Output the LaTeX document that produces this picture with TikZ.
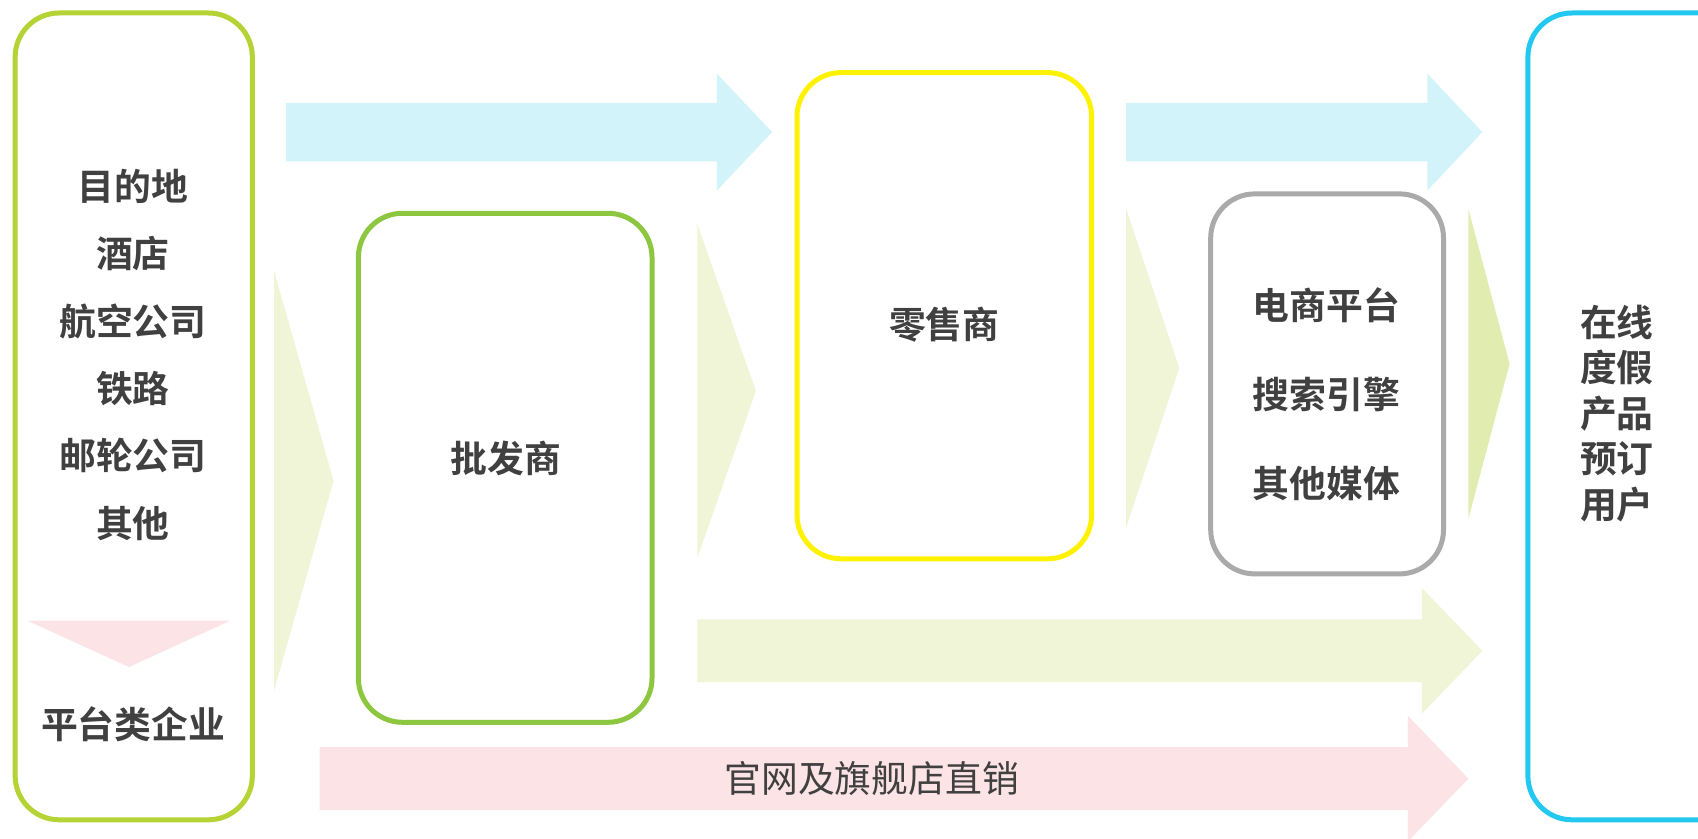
\documentclass[tikz,border=0pt]{standalone}
\usepackage{fontspec}
\newfontfamily\cjk{Noto Sans CJK SC}[BoldFont={Noto Sans CJK SC Bold}]
\definecolor{txtgray}{HTML}{404040}
\definecolor{leftgreen}{HTML}{B5D334}
\definecolor{midgreen}{HTML}{8DC63F}
\definecolor{retailyellow}{HTML}{FFF200}
\definecolor{mediagray}{HTML}{AAAAAA}
\definecolor{userblue}{HTML}{22C8F0}
\definecolor{flowblue}{HTML}{D3F3FB}
\definecolor{flowgreen}{HTML}{F0F5D7}
\definecolor{flowgreendark}{HTML}{E1EDB0}
\definecolor{flowpink}{HTML}{FBE3E6}

\begin{document}
\begin{tikzpicture}[x=0.5pt,y=-0.5pt,
  box/.style={draw,line width=2.5pt,rounded corners=22pt,fill=white},
  label/.style={text=txtgray,font=\cjk\bfseries\fontsize{18.4}{22}\selectfont,align=center}]
\clip (0,0) rectangle (1698,839);
\fill[white] (0,0) rectangle (1698,839);

\fill[flowblue] (285.9,102.9) -- (716.9,102.9) -- (716.9,73.6) -- (772.1,132.1) -- (716.9,190.6) -- (716.9,161.4) -- (285.9,161.4) -- cycle;
\fill[flowblue] (1126.2,102.9) -- (1427.3,102.9) -- (1427.3,73.6) -- (1482.4,132.1) -- (1427.3,190.6) -- (1427.3,161.4) -- (1126.2,161.4) -- cycle;
\fill[flowgreen] (697.4,619.4) -- (1421.9,619.4) -- (1421.9,588) -- (1482.4,650.8) -- (1421.9,713.6) -- (1421.9,682.2) -- (697.4,682.2) -- cycle;
\fill[flowpink] (319.5,747.2) -- (1407.9,747.2) -- (1407.9,715.8) -- (1468.4,778.6) -- (1407.9,841.4) -- (1407.9,810) -- (319.5,810) -- cycle;

\fill[flowgreen] (274,270.7) -- (333.5,480.8) -- (274,690.9) -- cycle;
\fill[flowgreen] (697.4,224.2) -- (755.9,390.9) -- (697.4,557.7) -- cycle;
\fill[flowgreen] (1126.2,209) -- (1179.3,368.2) -- (1126.2,527.4) -- cycle;
\fill[flowgreendark] (1468.4,209) -- (1509.6,363.9) -- (1468.4,518.7) -- cycle;

\node[box,draw=leftgreen,minimum width=118.6pt,minimum height=403.4pt] (source) at (133.75,416.4) {};
\node[box,draw=midgreen,minimum width=146.8pt,minimum height=254.5pt] (wholesale) at (505.2,467.8) {};
\node[box,draw=retailyellow,minimum width=147.3pt,minimum height=243.1pt] (retail) at (944.3,315.7) {};
\node[box,draw=mediagray,minimum width=116.4pt,minimum height=190pt] (media) at (1327.1,383.9) {};
\node[box,draw=userblue,minimum width=118.6pt,minimum height=403.4pt] (users) at (1646.5,416.4) {};

\fill[flowpink] (27,620.5) -- (230.7,620.5) -- (128.9,667) -- cycle;

\node[label,font=\cjk\bfseries\fontsize{18.4}{33.7}\selectfont] (sourcelist) at (133,354.7) {目的地\\酒店\\航空公司\\铁路\\邮轮公司\\其他};
\node[label] (platform) at (133,724.5) {平台类企业};
\node[label] (wholesaletxt) at (505.7,458) {批发商};
\node[label] (retailtxt) at (944.3,324.9) {零售商};
\node[label,font=\cjk\bfseries\fontsize{18.4}{44.4}\selectfont] (medialist) at (1326.5,394.2) {电商平台\\搜索引擎\\其他媒体};
\node[label,font=\cjk\bfseries\fontsize{18.4}{22.75}\selectfont] (userstxt) at (1616.8,413.5) {在线\\度假\\产品\\预订\\用户};
\node[text=txtgray,font=\cjk\fontsize{18.4}{22}\selectfont] (direct) at (871.7,778.6) {官网及旗舰店直销};
\end{tikzpicture}
\end{document}
